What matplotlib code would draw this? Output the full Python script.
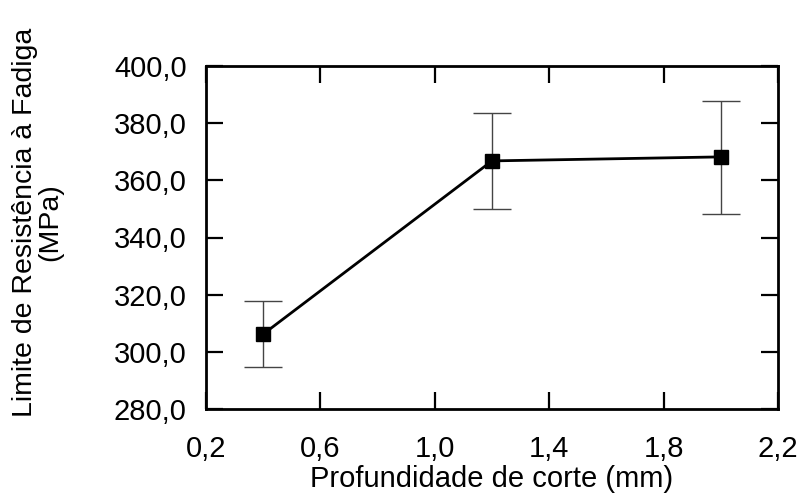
import numpy as np
import matplotlib.pyplot as plt
from matplotlib.ticker import FuncFormatter

plt.rcParams['font.family'] = ['Liberation Sans', 'DejaVu Sans']

# Profundidade de corte (mm) vs limite de resistencia a fadiga (MPa)
depth = [0.4, 1.2, 2.0]
fatigue = [306.2, 366.8, 368.2]
err_low = [11.5, 16.7, 20.0]
err_high = [11.6, 16.7, 19.7]

fig = plt.figure(figsize=(7.99, 4.95), dpi=100)
ax = fig.add_axes([206/799, 1 - 409/495, 572/799, 343/495])

ax.errorbar(depth, fatigue, yerr=[err_low, err_high], fmt='none',
            ecolor='#444444', elinewidth=1.0, capsize=13.5, capthick=1.0)
ax.plot(depth, fatigue, color='black', linewidth=2, marker='s',
        markersize=10, zorder=3)

ax.set_xlim(0.2, 2.2)
ax.set_ylim(280, 400)
ax.set_xticks(np.arange(0.2, 2.21, 0.4))
ax.set_yticks(np.arange(280, 401, 20))

comma = lambda fmt: FuncFormatter(lambda v, p: (fmt % v).replace('.', ','))
ax.xaxis.set_major_formatter(comma('%.1f'))
ax.yaxis.set_major_formatter(comma('%.1f'))

ax.tick_params(direction='in', length=12, width=1.6, labelsize=21,
               top=True, right=True)
ax.tick_params(axis='x', pad=19)
ax.tick_params(axis='y', pad=14)
for s in ax.spines.values():
    s.set_linewidth(2)

ax.set_xlabel('Profundidade de corte (mm)', fontsize=21, labelpad=1)
fig.text(38/799, 1 - 222/495, 'Limite de Resistência à Fadiga\n(MPa)',
         fontsize=20.5, rotation=90, ha='center', va='center',
         multialignment='center', linespacing=0.95)

fig.savefig('out.png', dpi=100)
